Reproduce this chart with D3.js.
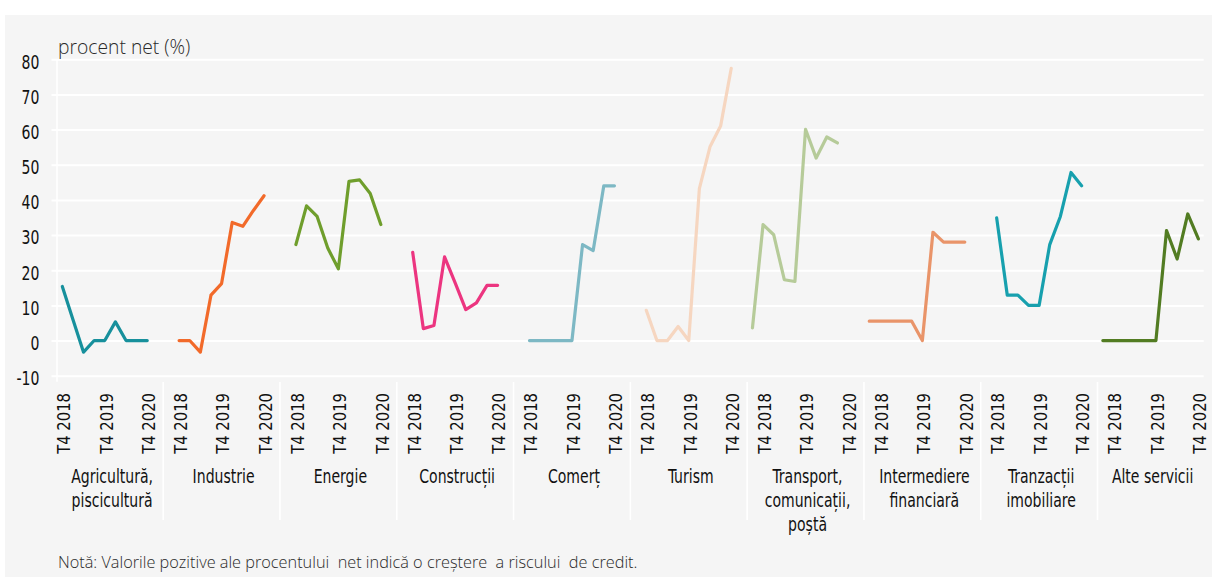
<!DOCTYPE html>
<html>
<head>
<meta charset="utf-8">
<script src="https://cdn.jsdelivr.net/npm/d3@7"></script>
<style>
  html, body { margin: 0; padding: 0; background: #ffffff; }
  svg { display: block; }
  .num { font-family: "DejaVu Sans Condensed", "Liberation Sans Narrow", sans-serif; fill: #111; }
  .light { font-family: "Open Sans", "Noto Sans", sans-serif; font-weight: 300; fill: #2a2a2a; }
</style>
</head>
<body>
<svg id="chart" width="1212" height="577"></svg>
<script>
// Sectors (one panel each) and their multi-line captions
const sectors = ["agri", "ind", "energ", "constr", "comert", "turism", "transp", "interm", "imob", "alte"];
const sectorLabels = [
  ["Agricultură,", "piscicultură"],
  ["Industrie"],
  ["Energie"],
  ["Construcții"],
  ["Comerț"],
  ["Turism"],
  ["Transport,", "comunicații,", "poștă"],
  ["Intermediere", "financiară"],
  ["Tranzacții", "imobiliare"],
  ["Alte servicii"]
];
const sectorColors = ["#17909c", "#f26a2a", "#6f9e2c", "#ec3580", "#7db8c4", "#f6d6c0", "#b6cb99", "#e99469", "#17a0ae", "#527c22"];

// Quarterly slots inside each panel (the trailing slot is the gap between panels)
const quarters = ["T3 2018", "T4 2018", "T1 2019", "T2 2019", "T3 2019", "T4 2019", "T1 2020", "T2 2020", "T3 2020", "T4 2020"];
const tickLabels = ["T4 2018", "T4 2019", "T4 2020"];

// First quarter of each series and its net percentage values
const seriesStart = ["T4 2018", "T4 2018", "T4 2018", "T4 2018", "T4 2018", "T4 2018", "T3 2018", "T3 2018", "T4 2018", "T3 2018"];
const agriValues   = [15.4, 6, -3.3, 0, 0, 5.3, 0, 0, 0];
const indValues    = [0, 0, -3.3, 12.9, 16.2, 33.6, 32.5, 37, 41.2];
const energValues  = [27.3, 38.3, 35.3, 26.3, 20.4, 45.3, 45.7, 41.8, 33];
const constrValues = [25.1, 3.4, 4.3, 23.8, 16.4, 8.8, 10.7, 15.7, 15.7];
const comertValues = [0, 0, 0, 0, 0, 27.3, 25.6, 44, 44];
const turismValues = [8.6, 0, 0, 4, 0, 43.2, 55.1, 61, 77.4];
const transpValues = [3.6, 33, 30.1, 17.3, 16.8, 60.1, 51.9, 57.9, 56.2];
const intermValues = [5.5, 5.5, 5.5, 5.5, 5.5, 0, 30.8, 28, 28, 28];
const imobValues   = [34.9, 12.9, 12.9, 10, 10, 27.3, 35.3, 47.8, 44];
const alteValues   = [0, 0, 0, 0, 0, 0, 31.3, 23.2, 36, 28.9];
const seriesValues = [agriValues, indValues, energValues, constrValues, comertValues,
                      turismValues, transpValues, intermValues, imobValues, alteValues];

const yTicks = [80, 70, 60, 50, 40, 30, 20, 10, 0, -10];
const yTitle = "procent net (%)";
const note = "Notă: Valorile pozitive ale procentului  net indică o creștere  a riscului  de credit.";

// ---- layout ----
const W = 1212, H = 577;
const plotLeft = 57, plotRight = 1203.7, plotTop = 59.3, plotBottom = 375.7;
const slotCount = sectors.length * (quarters.length + 1);   // 110 slots
const visibleSlots = slotCount - 2;                            // outermost slots fall outside the frame
const slotW = (plotRight - plotLeft) / visibleSlots;
const narrow = 0.8;   // horizontal squeeze for the condensed labels

const svg = d3.select("#chart");

// card background
svg.append("rect").attr("x", 5).attr("y", 15).attr("width", W - 5).attr("height", H - 15).attr("fill", "#f5f5f5");

const x = d3.scaleBand().domain(sectors).range([plotLeft - slotW, plotRight + slotW]);
const xi = d3.scaleBand().domain([...quarters, "gap"]).range([0, x.bandwidth()]);
const xPos = (s, q) => x(s) + xi(q) + xi.bandwidth() / 2;
const y = d3.scaleLinear().domain([-10, 80]).range([plotBottom, plotTop]);

// horizontal gridlines + value labels
const yAxis = d3.axisLeft(y).tickValues(yTicks).tickSize(0).tickPadding(0).tickFormat(d => String(d));
const gy = svg.append("g").attr("transform", `translate(${plotLeft - 5.5},0)`).call(yAxis);
gy.select(".domain").remove();
gy.selectAll(".tick line").attr("stroke", "#ffffff").attr("stroke-width", 2).attr("x1", 0).attr("x2", plotRight - plotLeft + 5.5);
gy.selectAll(".tick text").attr("class", "num").attr("font-size", 19.5).attr("dy", "0.45em").attr("fill", "#111")
  .attr("x", -12.2 / narrow).attr("transform", `scale(${narrow},1)`);

// vertical axis line
svg.append("line").attr("x1", plotLeft).attr("x2", plotLeft).attr("y1", plotTop).attr("y2", plotBottom + 6)
  .attr("stroke", "#ffffff").attr("stroke-width", 1.5);

// axis title
svg.append("text").attr("class", "light").attr("x", 58).attr("y", 54).attr("font-size", 19.3).text(yTitle);

// panel separators below the plot
svg.append("g").selectAll("line").data(sectors.slice(1)).join("line")
  .attr("x1", d => x(d)).attr("x2", d => x(d))
  .attr("y1", 382).attr("y2", 520)
  .attr("stroke", "#ffffff").attr("stroke-width", 1.6);

// rotated quarter labels
const tickData = sectors.flatMap(s => tickLabels.map(t => ({ s, t })));
svg.append("g").selectAll("text").data(tickData).join("text")
  .attr("class", "num")
  .attr("font-size", 17.5)
  .attr("text-anchor", "end")
  .attr("dy", "0.36em")
  .attr("transform", d => `translate(${xPos(d.s, d.t) + 1.5},393) rotate(-90) scale(0.94,1)`)
  .text(d => d.t);

// sector captions, centred on the visible part of each panel
const capG = svg.append("g");
sectors.forEach((s, i) => {
  const left = Math.max(x(s), plotLeft);
  const right = Math.min(x(s) + x.bandwidth(), plotRight);
  const cx = (left + right) / 2 + 2;
  const t = capG.append("text").attr("class", "num").attr("font-size", 19.5)
    .attr("text-anchor", "middle")
    .attr("transform", `translate(${cx},483) scale(${narrow},1)`);
  sectorLabels[i].forEach((line, k) => {
    t.append("tspan").attr("x", 0).attr("dy", k === 0 ? 0 : 24).text(line);
  });
});

// series lines
const line = d3.line().x(d => d.x).y(d => d.y);
sectors.forEach((s, i) => {
  const q0 = quarters.indexOf(seriesStart[i]);
  const pts = seriesValues[i].map((v, k) => ({ x: xPos(s, quarters[q0 + k]), y: y(v) }));
  svg.append("path").attr("d", line(pts))
    .attr("fill", "none").attr("stroke", sectorColors[i]).attr("stroke-width", 3.2)
    .attr("stroke-linejoin", "round").attr("stroke-linecap", "round");
});

// footnote
svg.append("text").attr("class", "light").attr("x", 58).attr("y", 568).attr("font-size", 16.3)
  .style("white-space", "pre").text(note);
</script>
</body>
</html>
